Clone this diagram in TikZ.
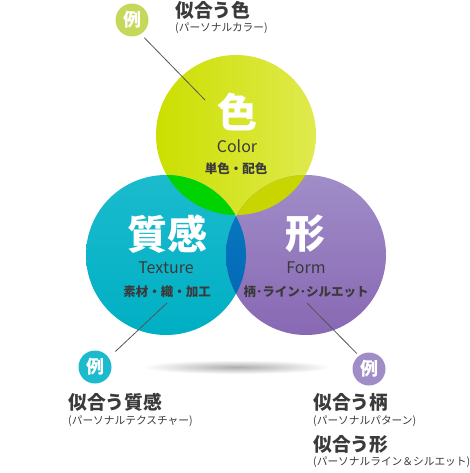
\documentclass[tikz,border=0pt]{standalone}
\usepackage{fontspec}
\setmainfont{Noto Sans CJK JP}
\usetikzlibrary{positioning}
\definecolor{colorL}{HTML}{CCDF00}
\definecolor{colorR}{HTML}{DFEA4E}
\definecolor{textureT}{HTML}{1BBBCD}
\definecolor{textureB}{HTML}{00AFC4}
\definecolor{formT}{HTML}{A08DC8}
\definecolor{formB}{HTML}{8868B3}
\definecolor{mixCT}{HTML}{00D300}
\definecolor{mixCF}{HTML}{C9D500}
\definecolor{mixTFT}{HTML}{0A7DC3}
\definecolor{mixTFB}{HTML}{0063B2}
\definecolor{badgeC}{HTML}{C6D75A}
\definecolor{textgray}{HTML}{3A3A3A}
\definecolor{linegray}{HTML}{555555}
\tikzstyle{big_char} = [
    white, 
    font=\bfseries\fontsize{40}{40}\selectfont, 
    inner sep=0pt
]
\tikzstyle{en_label} = [
    text=textgray, 
    font=\fontsize{16}{16}\selectfont, 
    inner sep=0pt
]
\tikzstyle{sub_label} = [
    text=textgray, 
    font=\bfseries\fontsize{12.5}{13}\selectfont, 
    inner sep=0pt
]
\tikzstyle{badge} = [
    circle, 
    white, 
    font=\bfseries\fontsize{18}{18}\selectfont, 
    inner sep=0pt, 
    minimum size=33pt
]
\tikzstyle{title_text} = [
    anchor=west, 
    text=textgray, 
    font=\bfseries\fontsize{18.8}{19}\selectfont, 
    inner sep=0pt
]
\tikzstyle{note_text} = [
    anchor=west, 
    text=textgray, 
    font=\fontsize{10.7}{11}\selectfont, 
    inner sep=0pt
]
\tikzstyle{pointer} = [
    draw=linegray, 
    line width=0.8pt
]
\begin{document}
\begin{tikzpicture}[x=1pt, y=-1pt]
\useasboundingbox (0,0) rectangle (470,473);
% shadow under the circles
\shade[inner color=black!32, outer color=white] (237,367) ellipse (95pt and 7pt);
% the three circles
\shade[left color=colorL, right color=colorR] (236,135) circle (80pt);
\shade[top color=textureT, bottom color=textureB] (166,255) circle (80pt);
\shade[top color=formT, bottom color=formB] (306,255) circle (80pt);
% overlaps
\begin{scope}
    \clip (236,135) circle (80pt);
    \fill[mixCT] (166,255) circle (80pt);
    \fill[mixCF] (306,255) circle (80pt);
\end{scope}
\begin{scope}
    \clip (166,255) circle (80pt);
    \shade[top color=mixTFT, bottom color=mixTFB] (306,255) circle (80pt);
\end{scope}
% labels in the circles
\node [big_char] (char_color) at (237,112) {色};
\node [en_label] (en_color) at (237,146) {Color};
\node [sub_label] (sub_color) at (236,169) {単色・配色};
\node [big_char] (char_texture) at (167,234) {質感};
\node [en_label] (en_texture) at (166,267.5) {Texture};
\node [sub_label] (sub_texture) at (167,292) {素材・織・加工};
\node [big_char] (char_form) at (305,234) {形};
\node [en_label] (en_form) at (306,267.5) {Form};
\node [sub_label] (sub_form) at (306,292) {柄･ライン･シルエット};
% badges
\node [badge, fill=badgeC] (badge_color) at (132,20) {例};
\node [badge, fill=textureT] (badge_texture) at (95,367) {例};
\node [badge, fill=formT] (badge_form) at (369,369) {例};
\coordinate (tip_color) at (205,100);
\coordinate (tip_texture) at (167,303);
\coordinate (tip_form) at (307,303);
\draw [pointer, shorten <=5pt] (badge_color.-58) -- (tip_color);
\draw [pointer, shorten <=9pt] (badge_texture.34) -- (tip_texture);
\draw [pointer, shorten <=3pt] (badge_form.127) -- (tip_form);
% examples
\node [title_text] (title_color) at (175,10) {似合う色};
\node [note_text] (note_color) at (175,28) {(パーソナルカラー)};
\node [title_text] (title_texture) at (68,402) {似合う質感};
\node [note_text] (note_texture) at (68,421) {(パーソナルテクスチャー)};
\node [title_text] (title_pattern) at (313,402) {似合う柄};
\node [note_text] (note_pattern) at (313,421) {(パーソナルパターン)};
\node [title_text] (title_form) at (313,444) {似合う形};
\node [note_text] (note_form) at (313,462) {(パーソナルライン＆シルエット)};
\end{tikzpicture}
\end{document}
